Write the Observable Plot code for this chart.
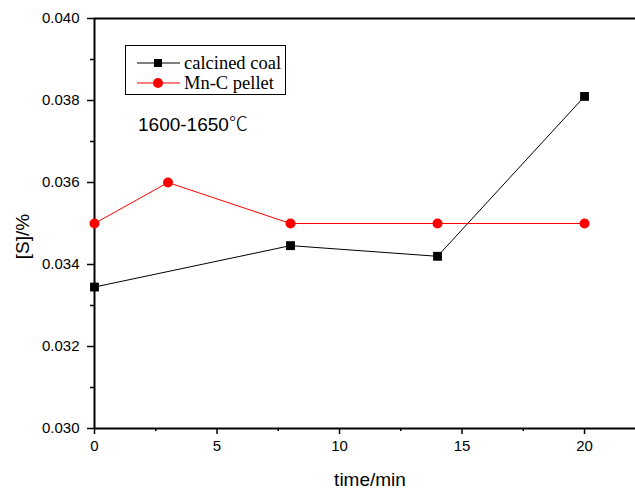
<!DOCTYPE html>
<html><head><meta charset="utf-8">
<script src="https://cdn.jsdelivr.net/npm/d3@7"></script>
<script src="https://cdn.jsdelivr.net/npm/@observablehq/plot@0.6"></script>
<style>
body{margin:0;background:#fff;}
#wrap{position:relative;width:635px;height:495px;}
#legend{position:absolute;left:125px;top:45px;width:161px;height:50px;border:1px solid #000;box-sizing:border-box;background:#fff;font-family:"Liberation Serif",serif;font-size:18.5px;}
#legend .row{position:absolute;left:0;height:22px;display:flex;align-items:center;white-space:nowrap;}
#legend svg{margin-left:11px;margin-right:4px;}
#note{position:absolute;left:138px;top:109px;font-family:"Liberation Sans",Arial,sans-serif;font-size:19px;white-space:nowrap;}
#note .deg{font-family:"Noto Sans CJK SC",sans-serif;font-weight:300;}
</style></head>
<body><div id="wrap"><div id="chart"></div>
<div id="legend"></div>
<div id="note"></div></div>
<script>
const times = [0, 8, 14, 20];
const coal = [0.03345, 0.03446, 0.03420, 0.0381];
const timesMn = [0, 3, 8, 14, 20];
const mnc = [0.035, 0.036, 0.035, 0.035, 0.035];
const xTicks = [0, 5, 10, 15, 20];
const xMinor = [2.5, 7.5, 12.5, 17.5];
const yTicks = [0.030, 0.032, 0.034, 0.036, 0.038, 0.040];
const yMinor = [0.031, 0.033, 0.035, 0.037, 0.039];
const seriesNames = ["calcined coal", "Mn-C pellet"];
const seriesColors = ["#000000", "#ff0000"];
const xTitle = "time/min";
const yTitle = "[S]/%";
const noteText = "1600-1650";
const noteUnit = "℃";

const coalData = times.map((t,i)=>({t, v: coal[i]}));
const mnData = timesMn.map((t,i)=>({t, v: mnc[i]}));

const chart = Plot.plot({
  width: 635, height: 495,
  marginLeft: 94, marginRight: 0, marginTop: 18, marginBottom: 67,
  style: {fontFamily: '"Liberation Sans", Arial, sans-serif', fontSize: "15px", color: "#000", overflow: "visible"},
  x: {domain: [0, 22.08]},
  y: {domain: [0.030, 0.040]},
  marks: [
    Plot.axisX({ticks: xTicks, tickSize: 6, tickPadding: 6, tickFormat: d=>d, label: null, fontSize: 15, strokeWidth: 1.5}),
    Plot.axisX({ticks: xMinor, tickSize: 3, label: null, text: null, strokeWidth: 1.5}),
    Plot.axisY({ticks: yTicks, tickSize: 7, tickPadding: 8, tickFormat: d3.format(".3f"), label: null, fontSize: 15, strokeWidth: 1.5}),
    Plot.axisY({ticks: yMinor, tickSize: 4, label: null, text: null, strokeWidth: 1.5}),
    Plot.text([xTitle], {text: d=>d, frameAnchor: "bottom", dx: 5, dy: 44, fontSize: 19, lineAnchor: "top"}),
    Plot.text([yTitle], {text: d=>d, frameAnchor: "left", dx: -72, dy: 13, rotate: -90, fontSize: 19, textAnchor: "middle"}),
    Plot.ruleX([0], {strokeWidth: 2}),
    Plot.ruleY([0.030], {strokeWidth: 2}),
    Plot.ruleY([0.040], {strokeWidth: 2}),
    Plot.line(mnData, {x: "t", y: "v", stroke: seriesColors[1], strokeWidth: 1}),
    Plot.dot(mnData, {x: "t", y: "v", fill: seriesColors[1], r: 5, symbol: "circle"}),
    Plot.line(coalData, {x: "t", y: "v", stroke: seriesColors[0], strokeWidth: 1}),
    Plot.dot(coalData, {x: "t", y: "v", fill: seriesColors[0], r: 5, symbol: "square"})
  ]
});
document.getElementById("chart").appendChild(chart);

const leg = document.getElementById("legend");
seriesNames.forEach((name, i) => {
  const row = document.createElement("div");
  row.className = "row";
  row.style.top = (i === 0 ? 6 : 26) + "px";
  const sym = i === 0
    ? `<rect x="17" y="7" width="8" height="8" fill="${seriesColors[i]}"/>`
    : `<circle cx="21" cy="11" r="5" fill="${seriesColors[i]}"/>`;
  row.innerHTML = `<svg width="43" height="22"><line x1="0" x2="43" y1="11" y2="11" stroke="${seriesColors[i]}" stroke-width="1"/>${sym}</svg><span>${name}</span>`;
  leg.appendChild(row);
});
document.getElementById("note").innerHTML = noteText + `<span class="deg">${noteUnit}</span>`;
</script></body></html>
